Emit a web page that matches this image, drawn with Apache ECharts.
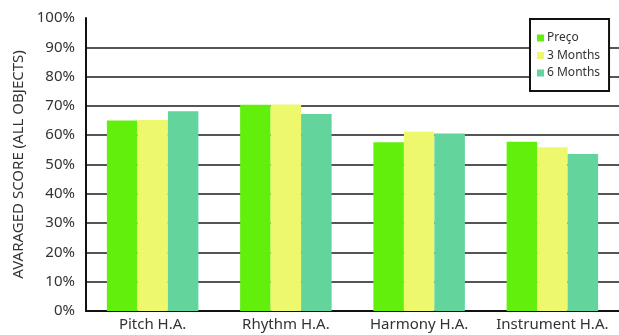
<!DOCTYPE html>
<html>
<head>
<meta charset="utf-8">
<script src="https://cdn.jsdelivr.net/npm/echarts@6/dist/echarts.min.js"></script>
<style>
  html, body { margin: 0; padding: 0; background: #fff; }
  #chart { width: 619px; height: 335px; }
</style>
</head>
<body>
<div id="chart"></div>
<script>
// Averaged scores per harmonic-analysis task, for three test moments
const categories = ['Pitch H.A.', 'Rhythm H.A.', 'Harmony H.A.', 'Instrument H.A.'];
const seriesNames = ['Preço', '3 Months', '6 Months'];
const preco = [65, 70.4, 57.6, 57.8];
const threeMonths = [65.2, 70.5, 61.2, 55.9];
const sixMonths = [68.2, 67.2, 60.6, 53.6];
const yTicks = [0, 10, 20, 30, 40, 50, 60, 70, 80, 90, 100];

const colors = ['#62ef0c', '#eef86c', '#62d49c'];
const font = 'Noto Sans';

// hide the gridline at the top tick only
const gridColors = yTicks.map((v, i) => (i === yTicks.length - 1 ? 'rgba(0,0,0,0)' : '#1c1c1c'));

const chart = echarts.init(document.getElementById('chart'), null, { renderer: 'canvas' });
chart.setOption({
  animation: false,
  backgroundColor: '#fff',
  color: colors,
  textStyle: { fontFamily: font },
  grid: { left: 86, top: 18, width: 536, height: 293 },
  legend: {
    data: seriesNames,
    orient: 'vertical',
    left: 530,
    top: 19,
    padding: [13, 9, 12, 7],
    itemGap: 5.5,
    itemWidth: 7,
    itemHeight: 7,
    icon: 'rect',
    backgroundColor: '#fff',
    borderColor: '#111',
    borderWidth: 2,
    borderRadius: 0,
    textStyle: { fontSize: 12, color: '#333', fontFamily: font, padding: [0, 0, 0, -2] }
  },
  xAxis: {
    type: 'category',
    data: categories,
    axisLine: { lineStyle: { color: '#111', width: 2 } },
    axisTick: { show: false },
    axisLabel: { color: '#333', fontSize: 15, margin: 6, interval: 0, fontFamily: font },
    splitLine: { show: false }
  },
  yAxis: {
    type: 'value',
    min: 0,
    max: 100,
    interval: 10,
    name: 'AVARAGED SCORE (ALL OBJECTS)',
    nameLocation: 'middle',
    nameRotate: 90,
    nameGap: 58,
    nameTextStyle: { color: '#333', fontSize: 15, fontFamily: font },
    axisLine: { show: true, lineStyle: { color: '#111', width: 2 } },
    axisTick: { show: false },
    axisLabel: {
      color: '#333', fontSize: 15, margin: 11, fontFamily: font,
      formatter: v => v + '%'
    },
    splitLine: { show: true, lineStyle: { color: gridColors, width: 1.5 } }
  },
  series: [
    { name: seriesNames[0], type: 'bar', data: preco, barWidth: 30.5, barGap: '0%' },
    { name: seriesNames[1], type: 'bar', data: threeMonths, barWidth: 30.5, barGap: '0%' },
    { name: seriesNames[2], type: 'bar', data: sixMonths, barWidth: 30.5, barGap: '0%' }
  ]
});
</script>
</body>
</html>
